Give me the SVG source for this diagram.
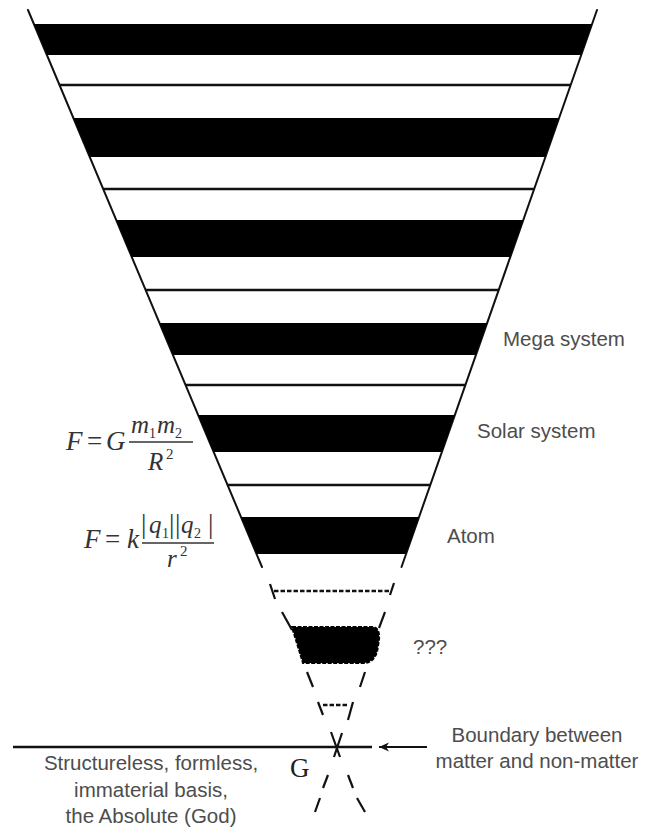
<svg xmlns="http://www.w3.org/2000/svg" width="653" height="827" viewBox="0 0 653 827">
<style>
.band{fill:#000}
.sep{stroke:#111;stroke-width:2.5}
.side{stroke:#111;stroke-width:2;fill:none;stroke-linecap:round}
.dash{stroke:#111;stroke-width:2.5;fill:none;stroke-dasharray:4.5 2}
.seg{stroke:#111;stroke-width:2.2;fill:none}
.lbl{font-family:"Liberation Sans",Arial,sans-serif;font-size:20.5px;fill:#4d4d4d}
.math{font-family:"Liberation Serif","Times New Roman",serif;font-style:italic;fill:#333}
.up{font-style:normal}
</style>
<defs>
<marker id="ah" markerWidth="11" markerHeight="10" refX="10" refY="5" orient="auto" markerUnits="userSpaceOnUse">
<path d="M10,5 L0,0.5 L3,5 L0,9.5 Z" fill="#111"/>
</marker>
</defs>

<g id="funnel">
<line class="side" x1="28" y1="10" x2="262" y2="567"/>
<line class="side" x1="597" y1="10" x2="401.5" y2="567"/>
<polygon class="band" points="33.9,24 592.1,24 581.2,55 46.9,55"/>
<line class="sep" x1="59.5" y1="85" x2="570.7" y2="85"/>
<polygon class="band" points="73.4,118 559.1,118 545.4,157 89.7,157"/>
<line class="sep" x1="103.2" y1="189" x2="534.2" y2="189"/>
<polygon class="band" points="116.2,220 523.3,220 510.3,257 131.7,257"/>
<line class="sep" x1="145.6" y1="290" x2="498.7" y2="290"/>
<polygon class="band" points="159.5,323 487.1,323 475.9,355 172.9,355"/>
<line class="sep" x1="185.5" y1="385" x2="465.4" y2="385"/>
<polygon class="band" points="198.1,415 454.8,415 441.9,452 213.6,452"/>
<line class="sep" x1="227.5" y1="485" x2="430.3" y2="485"/>
<polygon class="band" points="240.9,517 419,517 406.1,554 256.5,554"/>
</g>

<g id="unknown-levels">
<line class="dash" x1="274" y1="591" x2="391" y2="591"/>
<line class="seg" x1="270" y1="584" x2="275" y2="599"/>
<line class="seg" x1="394" y1="583" x2="390" y2="595"/>
<line class="seg" x1="282" y1="612" x2="292" y2="630"/>
<line class="seg" x1="385" y1="612" x2="379" y2="628"/>
<path d="M292,627 L372,627 Q380,627 379,640 L377,652 Q373,663 364,663 L303,663 Z" fill="#000" stroke="#000" stroke-width="2" stroke-dasharray="4 1.5"/>
<line class="seg" x1="307" y1="672" x2="313" y2="687"/>
<line class="seg" x1="365" y1="672" x2="360" y2="687"/>
<line class="dash" x1="323" y1="705" x2="349" y2="705" stroke-dasharray="3.5 2"/>
<line class="seg" x1="318" y1="702" x2="323" y2="715"/>
<line class="seg" x1="353" y1="702" x2="348" y2="720"/>
</g>

<g id="boundary">
<line x1="13" y1="747" x2="372" y2="747" stroke="#111" stroke-width="2.6"/>
<line class="seg" x1="331" y1="732" x2="340" y2="757"/>
<line class="seg" x1="342" y1="733" x2="334" y2="757"/>
<line class="seg" x1="328" y1="775" x2="323" y2="788"/>
<line class="seg" x1="320" y1="798" x2="315" y2="812"/>
<line class="seg" x1="348" y1="775" x2="353" y2="788"/>
<line class="seg" x1="357" y1="798" x2="365" y2="812"/>
</g>

<g id="connectors">
<line x1="427" y1="747" x2="379" y2="747" stroke="#111" stroke-width="2.2" marker-end="url(#ah)"/>
</g>

<g id="labels">
<text class="lbl" x="503" y="346">Mega system</text>
<text class="lbl" x="477" y="438">Solar system</text>
<text class="lbl" x="447" y="543">Atom</text>
<text class="lbl" x="413" y="654">???</text>
<text class="lbl" x="537" y="742" text-anchor="middle">Boundary between</text>
<text class="lbl" x="537" y="768" text-anchor="middle">matter and non-matter</text>
<text class="lbl" x="151" y="770" text-anchor="middle">Structureless, formless,</text>
<text class="lbl" x="151" y="797" text-anchor="middle">immaterial basis,</text>
<text class="lbl" x="151" y="823" text-anchor="middle">the Absolute (God)</text>
<text x="290" y="777" font-family="'Liberation Serif','Times New Roman',serif" font-size="27" fill="#222">G</text>
</g>

<g id="gravity-formula">
<text class="math" x="66" y="450" font-size="27">F</text>
<text class="math up" x="87" y="450" font-size="27">=</text>
<text class="math" x="106" y="450" font-size="27">G</text>
<text class="math" x="131" y="433" font-size="25">m</text>
<text class="math up" x="149" y="438" font-size="14">1</text>
<text class="math" x="157" y="433" font-size="25">m</text>
<text class="math up" x="175" y="438" font-size="14">2</text>
<line x1="129" y1="442" x2="193" y2="442" stroke="#333" stroke-width="1.3"/>
<text class="math" x="148" y="470" font-size="25">R</text>
<text class="math up" x="166" y="459" font-size="15">2</text>
</g>

<g id="coulomb-formula">
<text class="math" x="84" y="548" font-size="27">F</text>
<text class="math up" x="105" y="548" font-size="27">=</text>
<text class="math" x="127" y="548" font-size="27">k</text>
<text class="math up" x="141" y="533" font-size="27">|</text>
<text class="math" x="149" y="533" font-size="25">q</text>
<text class="math up" x="162" y="538" font-size="14">1</text>
<text class="math up" x="169" y="533" font-size="27">|</text>
<text class="math up" x="175" y="533" font-size="27">|</text>
<text class="math" x="181" y="533" font-size="25">q</text>
<text class="math up" x="194" y="538" font-size="14">2</text>
<text class="math up" x="208" y="533" font-size="27">|</text>
<line x1="142" y1="543" x2="214" y2="543" stroke="#333" stroke-width="1.3"/>
<text class="math" x="167" y="567" font-size="25">r</text>
<text class="math up" x="180" y="556" font-size="15">2</text>
</g>
</svg>
